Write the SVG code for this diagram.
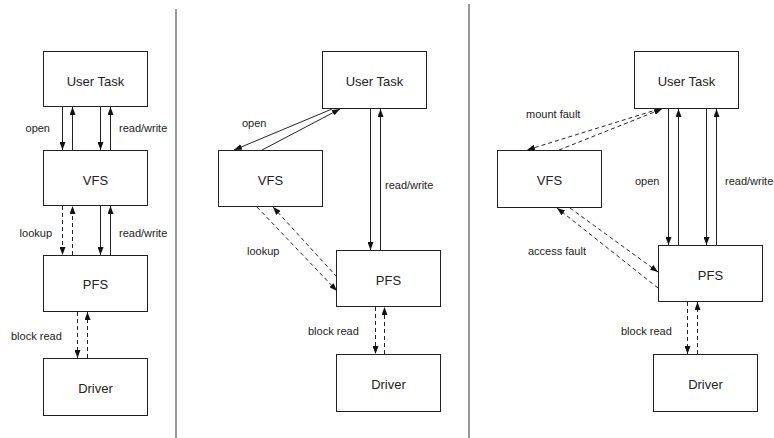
<svg xmlns="http://www.w3.org/2000/svg" width="774" height="438" viewBox="0 0 774 438">
  <style>
    .box { fill: #fff; stroke: #222; stroke-width: 1; }
    .name { font-family: "Liberation Sans", Arial, sans-serif; font-size: 13px; fill: #222; text-anchor: middle; }
    .lbl { font-family: "Liberation Sans", Arial, sans-serif; font-size: 11px; fill: #222; }
    .end { text-anchor: end; }
    .edge { fill: none; stroke: #222; stroke-width: 1; marker-end: url(#head); }
    .dash { stroke-dasharray: 4 3; }
    .divider { stroke: #555; stroke-width: 1.2; }
  </style>
  <defs>
    <marker id="head" viewBox="0 0 8 6" refX="8" refY="3" markerWidth="8" markerHeight="6" markerUnits="userSpaceOnUse" orient="auto">
      <path d="M0,0 L8,3 L0,6 z" fill="#111"/>
    </marker>
  </defs>
  <rect width="774" height="438" fill="#fff"/>

  <!-- panel separators -->
  <line class="divider" x1="176" y1="9" x2="176" y2="438"/>
  <line class="divider" x1="469" y1="4" x2="469" y2="438"/>

  <!-- left panel: all requests go through the VFS -->
  <g id="l-user"><rect class="box" x="43.5" y="51.5" width="104" height="55"/><text class="name" x="95.5" y="85.5">User Task</text></g>
  <g id="l-vfs"><rect class="box" x="43.5" y="150.5" width="104" height="55"/><text class="name" x="95.5" y="184.5">VFS</text></g>
  <g id="l-pfs"><rect class="box" x="43.5" y="255.5" width="104" height="56"/><text class="name" x="95.5" y="288.5">PFS</text></g>
  <g id="l-driver"><rect class="box" x="43.5" y="358.5" width="104" height="57"/><text class="name" x="95.5" y="392.5">Driver</text></g>

  <!-- middle panel: VFS only resolves names -->
  <g id="m-user"><rect class="box" x="322.5" y="51.5" width="104" height="57"/><text class="name" x="374.5" y="85.5">User Task</text></g>
  <g id="m-vfs"><rect class="box" x="218.5" y="150.5" width="104" height="56"/><text class="name" x="270.5" y="184.5">VFS</text></g>
  <g id="m-pfs"><rect class="box" x="336.5" y="250.5" width="104" height="56"/><text class="name" x="388.5" y="284.5">PFS</text></g>
  <g id="m-driver"><rect class="box" x="336.5" y="354.5" width="104" height="57"/><text class="name" x="388.5" y="388.5">Driver</text></g>

  <!-- right panel: VFS reached only on faults -->
  <g id="r-user"><rect class="box" x="634.5" y="51.5" width="104" height="57"/><text class="name" x="686.5" y="85.5">User Task</text></g>
  <g id="r-vfs"><rect class="box" x="497.5" y="150.5" width="104" height="57"/><text class="name" x="549.5" y="184.5">VFS</text></g>
  <g id="r-pfs"><rect class="box" x="658.5" y="245.5" width="104" height="56"/><text class="name" x="710.5" y="279.5">PFS</text></g>
  <g id="r-driver"><rect class="box" x="653.5" y="354.5" width="104" height="57"/><text class="name" x="705.5" y="388.5">Driver</text></g>

  <g id="connectors">
    <!-- left -->
    <line class="edge" x1="62.5" y1="107" x2="62.5" y2="150"/>
    <line class="edge" x1="72.5" y1="150" x2="72.5" y2="107"/>
    <line class="edge" x1="100.5" y1="107" x2="100.5" y2="150"/>
    <line class="edge" x1="110.5" y1="150" x2="110.5" y2="107"/>
    <line class="edge dash" x1="62.5" y1="206" x2="62.5" y2="255"/>
    <line class="edge dash" x1="72.5" y1="255" x2="72.5" y2="206"/>
    <line class="edge" x1="100.5" y1="206" x2="100.5" y2="255"/>
    <line class="edge" x1="110.5" y1="255" x2="110.5" y2="206"/>
    <line class="edge dash" x1="77.5" y1="312" x2="77.5" y2="358"/>
    <line class="edge dash" x1="87.5" y1="358" x2="87.5" y2="312"/>

    <!-- middle -->
    <line class="edge" x1="332" y1="109" x2="234" y2="150"/>
    <line class="edge" x1="262" y1="150" x2="340" y2="109"/>
    <line class="edge" x1="370.5" y1="109" x2="370.5" y2="250"/>
    <line class="edge" x1="380.5" y1="250" x2="380.5" y2="109"/>
    <line class="edge dash" x1="257" y1="207" x2="337" y2="291"/>
    <line class="edge dash" x1="337" y1="277" x2="273" y2="207"/>
    <line class="edge dash" x1="375.5" y1="307" x2="375.5" y2="354"/>
    <line class="edge dash" x1="384.5" y1="354" x2="384.5" y2="307"/>

    <!-- right -->
    <line class="edge dash" x1="659" y1="109" x2="527" y2="150"/>
    <line class="edge dash" x1="559" y1="150" x2="662" y2="109"/>
    <line class="edge" x1="668.5" y1="109" x2="668.5" y2="245"/>
    <line class="edge" x1="678.5" y1="245" x2="678.5" y2="109"/>
    <line class="edge" x1="706.5" y1="109" x2="706.5" y2="245"/>
    <line class="edge" x1="716.5" y1="245" x2="716.5" y2="109"/>
    <line class="edge dash" x1="658" y1="288" x2="557" y2="208"/>
    <line class="edge dash" x1="570" y1="208" x2="658" y2="272"/>
    <line class="edge dash" x1="687.5" y1="302" x2="687.5" y2="354"/>
    <line class="edge dash" x1="697.5" y1="354" x2="697.5" y2="302"/>
  </g>

  <g id="labels">
    <text class="lbl end" x="50" y="132">open</text>
    <text class="lbl" x="119" y="132">read/write</text>
    <text class="lbl end" x="52" y="237">lookup</text>
    <text class="lbl" x="119" y="237">read/write</text>
    <text class="lbl" x="11" y="340">block read</text>

    <text class="lbl" x="242" y="127">open</text>
    <text class="lbl" x="385" y="189">read/write</text>
    <text class="lbl" x="247" y="255">lookup</text>
    <text class="lbl" x="308" y="335">block read</text>

    <text class="lbl" x="526" y="118">mount fault</text>
    <text class="lbl" x="635" y="185">open</text>
    <text class="lbl" x="725" y="185">read/write</text>
    <text class="lbl end" x="586" y="255">access fault</text>
    <text class="lbl" x="621" y="335">block read</text>
  </g>
</svg>
